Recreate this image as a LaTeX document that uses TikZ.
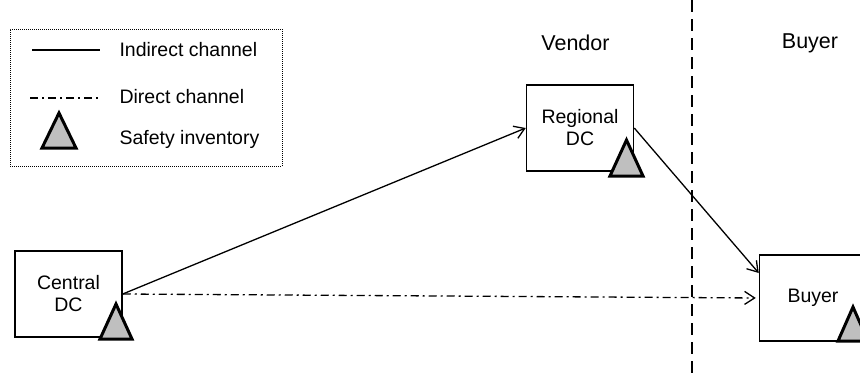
\documentclass[tikz,border=0pt]{standalone}
\usepackage{fontspec}
\setmainfont{Liberation Sans}
\usetikzlibrary{positioning,arrows.meta}

\begin{document}
\begin{tikzpicture}[x=1pt,y=-1pt,font=\fontsize{19.5}{22}\selectfont]
	\tikzset{dc/.style={draw,line width=1.5pt,minimum width=107pt,minimum height=86pt,align=center,inner sep=0pt}}
	\tikzset{safety/.style={draw,line width=3pt,fill=gray!50,line join=miter}}
	\tikzset{flow/.style={line width=1.3pt,-{Straight Barb[length=10pt,width=13pt,line width=1.3pt]}}}
	\tikzset{dashdot/.style={dash pattern=on 8pt off 4pt on 2pt off 4pt}}
	\tikzset{tier/.style={font=\fontsize{21.5}{24}\selectfont}}
	\useasboundingbox (0,0) rectangle (860,381);
	\clip (0,0) rectangle (860,381);

	%% legend
	\node[draw,densely dotted,line width=1pt,minimum width=272pt,minimum height=137pt] (legend) at (146,97.5) {};
	\coordinate (l1a) at (32,50);  \coordinate (l1b) at (100,50);
	\coordinate (l2a) at (30,98);  \coordinate (l2b) at (100,98);
	\draw[line width=1.5pt] (l1a) -- (l1b);
	\draw[line width=1.3pt,dashdot] (l2a) -- (l2b);
	\draw[safety,shift={(59,131)}] (-17,17) -- (0,-18) -- (17,17) -- cycle;
	\node[anchor=west] (indirect) at (116,50) {Indirect channel};
	\node[anchor=west] (direct) at (116,97) {Direct channel};
	\node[anchor=west] (safe) at (116,139) {Safety inventory};

	%% tiers
	\node[tier] (vendor) at (575.5,43) {Vendor};
	\node[tier] (buyerlbl) at (810,43) {Buyer};
	\coordinate (sepT) at (692,0);
	\coordinate (sepB) at (692,377);
	\draw[line width=1.3pt,dash pattern=on 12pt off 7pt] (sepT) -- (sepB);

	%% nodes
	\node[dc] (cen) at (68.5,294) {Central\\DC};
	\node[dc] (reg) at (580,128) {Regional\\DC};
	\node[dc] (buy) at (813,298) {Buyer};
	\draw[safety,shift={(116,322)}] (-16,17) -- (0,-18) -- (16,17) -- cycle;
	\draw[safety,shift={(626.5,158)}] (-16.5,18) -- (0,-18) -- (16.5,18) -- cycle;
	\draw[safety,shift={(853,324)}] (-15,17) -- (0,-17) -- (15,17) -- cycle;

	\path[flow]
		(cen.east) edge (reg.west)
		(reg.east) edge ([yshift=25pt]buy.west);
	\draw[flow,dashdot,shorten >=3pt] (cen.east) -- (buy.west);
\end{tikzpicture}
\end{document}
